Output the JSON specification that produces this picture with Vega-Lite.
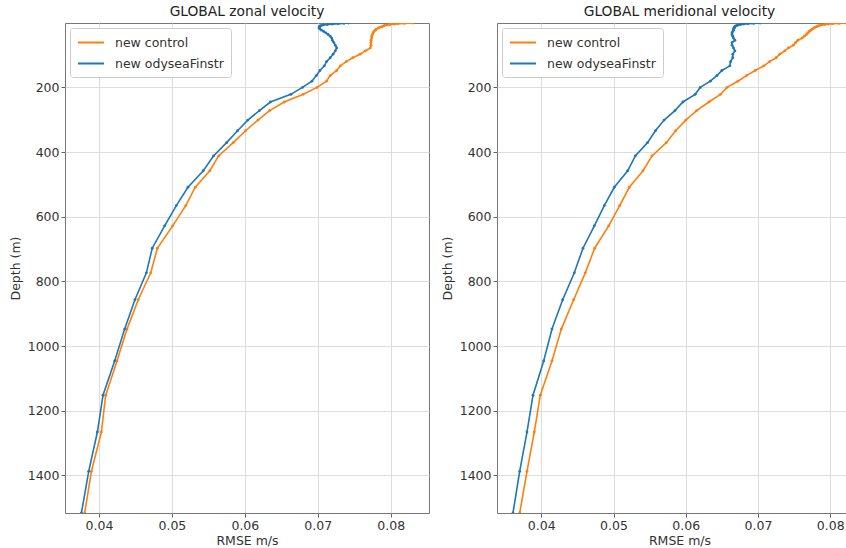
{
"$schema": "https://vega.github.io/schema/vega-lite/v6.json",
"padding": {"left": 8, "top": 4, "right": 0, "bottom": 0},
"datasets": {
"zonal": [
{"series":"new control","depth":0.5058,"rmse":0.0830},
{"series":"new control","depth":1.5559,"rmse":0.0819},
{"series":"new control","depth":2.6677,"rmse":0.0810},
{"series":"new control","depth":3.8563,"rmse":0.0805},
{"series":"new control","depth":5.1404,"rmse":0.0799},
{"series":"new control","depth":6.543,"rmse":0.0795},
{"series":"new control","depth":8.0925,"rmse":0.0792},
{"series":"new control","depth":9.8228,"rmse":0.0790},
{"series":"new control","depth":11.7737,"rmse":0.0788},
{"series":"new control","depth":13.9911,"rmse":0.0785},
{"series":"new control","depth":16.5253,"rmse":0.0783},
{"series":"new control","depth":19.4298,"rmse":0.0780},
{"series":"new control","depth":22.7576,"rmse":0.0779},
{"series":"new control","depth":26.5583,"rmse":0.0777},
{"series":"new control","depth":30.8746,"rmse":0.0776},
{"series":"new control","depth":35.7402,"rmse":0.0775},
{"series":"new control","depth":41.18,"rmse":0.0774},
{"series":"new control","depth":47.2119,"rmse":0.0774},
{"series":"new control","depth":53.8506,"rmse":0.0773},
{"series":"new control","depth":61.1128,"rmse":0.0773},
{"series":"new control","depth":69.0217,"rmse":0.0773},
{"series":"new control","depth":77.6112,"rmse":0.0772},
{"series":"new control","depth":86.9294,"rmse":0.0765},
{"series":"new control","depth":97.0413,"rmse":0.0758},
{"series":"new control","depth":108.0303,"rmse":0.0748},
{"series":"new control","depth":120.0,"rmse":0.0739},
{"series":"new control","depth":133.0758,"rmse":0.0731},
{"series":"new control","depth":147.4062,"rmse":0.0726},
{"series":"new control","depth":163.1645,"rmse":0.0717},
{"series":"new control","depth":180.5499,"rmse":0.0712},
{"series":"new control","depth":199.79,"rmse":0.0699},
{"series":"new control","depth":221.1412,"rmse":0.0680},
{"series":"new control","depth":244.8906,"rmse":0.0654},
{"series":"new control","depth":271.3564,"rmse":0.0634},
{"series":"new control","depth":300.8875,"rmse":0.0618},
{"series":"new control","depth":333.8628,"rmse":0.0601},
{"series":"new control","depth":370.6885,"rmse":0.0584},
{"series":"new control","depth":411.7939,"rmse":0.0564},
{"series":"new control","depth":457.6256,"rmse":0.0552},
{"series":"new control","depth":508.6399,"rmse":0.0532},
{"series":"new control","depth":565.2922,"rmse":0.0519},
{"series":"new control","depth":628.026,"rmse":0.0501},
{"series":"new control","depth":697.2587,"rmse":0.0480},
{"series":"new control","depth":773.3683,"rmse":0.0471},
{"series":"new control","depth":856.6792,"rmse":0.04538},
{"series":"new control","depth":947.4479,"rmse":0.04384},
{"series":"new control","depth":1045.854,"rmse":0.04247},
{"series":"new control","depth":1151.991,"rmse":0.04092},
{"series":"new control","depth":1265.861,"rmse":0.04033},
{"series":"new control","depth":1387.377,"rmse":0.03896},
{"series":"new control","depth":1516.364,"rmse":0.03804},
{"series":"new odyseaFinstr","depth":0.5058,"rmse":0.0742},
{"series":"new odyseaFinstr","depth":1.5559,"rmse":0.0736},
{"series":"new odyseaFinstr","depth":2.6677,"rmse":0.0728},
{"series":"new odyseaFinstr","depth":3.8563,"rmse":0.0720},
{"series":"new odyseaFinstr","depth":5.1404,"rmse":0.0713},
{"series":"new odyseaFinstr","depth":6.543,"rmse":0.0708},
{"series":"new odyseaFinstr","depth":8.0925,"rmse":0.0705},
{"series":"new odyseaFinstr","depth":9.8228,"rmse":0.0703},
{"series":"new odyseaFinstr","depth":11.7737,"rmse":0.0702},
{"series":"new odyseaFinstr","depth":13.9911,"rmse":0.0702},
{"series":"new odyseaFinstr","depth":16.5253,"rmse":0.0702},
{"series":"new odyseaFinstr","depth":19.4298,"rmse":0.0703},
{"series":"new odyseaFinstr","depth":22.7576,"rmse":0.0705},
{"series":"new odyseaFinstr","depth":26.5583,"rmse":0.0708},
{"series":"new odyseaFinstr","depth":30.8746,"rmse":0.0711},
{"series":"new odyseaFinstr","depth":35.7402,"rmse":0.0714},
{"series":"new odyseaFinstr","depth":41.18,"rmse":0.0717},
{"series":"new odyseaFinstr","depth":47.2119,"rmse":0.0719},
{"series":"new odyseaFinstr","depth":53.8506,"rmse":0.0720},
{"series":"new odyseaFinstr","depth":61.1128,"rmse":0.0722},
{"series":"new odyseaFinstr","depth":69.0217,"rmse":0.0724},
{"series":"new odyseaFinstr","depth":77.6112,"rmse":0.0726},
{"series":"new odyseaFinstr","depth":86.9294,"rmse":0.0724},
{"series":"new odyseaFinstr","depth":97.0413,"rmse":0.0721},
{"series":"new odyseaFinstr","depth":108.0303,"rmse":0.0717},
{"series":"new odyseaFinstr","depth":120.0,"rmse":0.0712},
{"series":"new odyseaFinstr","depth":133.0758,"rmse":0.0709},
{"series":"new odyseaFinstr","depth":147.4062,"rmse":0.0703},
{"series":"new odyseaFinstr","depth":163.1645,"rmse":0.0698},
{"series":"new odyseaFinstr","depth":180.5499,"rmse":0.0692},
{"series":"new odyseaFinstr","depth":199.79,"rmse":0.0679},
{"series":"new odyseaFinstr","depth":221.1412,"rmse":0.0663},
{"series":"new odyseaFinstr","depth":244.8906,"rmse":0.0635},
{"series":"new odyseaFinstr","depth":271.3564,"rmse":0.0620},
{"series":"new odyseaFinstr","depth":300.8875,"rmse":0.0604},
{"series":"new odyseaFinstr","depth":333.8628,"rmse":0.0590},
{"series":"new odyseaFinstr","depth":370.6885,"rmse":0.0575},
{"series":"new odyseaFinstr","depth":411.7939,"rmse":0.0557},
{"series":"new odyseaFinstr","depth":457.6256,"rmse":0.0543},
{"series":"new odyseaFinstr","depth":508.6399,"rmse":0.0522},
{"series":"new odyseaFinstr","depth":565.2922,"rmse":0.0506},
{"series":"new odyseaFinstr","depth":628.026,"rmse":0.0490},
{"series":"new odyseaFinstr","depth":697.2587,"rmse":0.0473},
{"series":"new odyseaFinstr","depth":773.3683,"rmse":0.0465},
{"series":"new odyseaFinstr","depth":856.6792,"rmse":0.04493},
{"series":"new odyseaFinstr","depth":947.4479,"rmse":0.04352},
{"series":"new odyseaFinstr","depth":1045.854,"rmse":0.04215},
{"series":"new odyseaFinstr","depth":1151.991,"rmse":0.04055},
{"series":"new odyseaFinstr","depth":1265.861,"rmse":0.03978},
{"series":"new odyseaFinstr","depth":1387.377,"rmse":0.03859},
{"series":"new odyseaFinstr","depth":1516.364,"rmse":0.03759}
],
"meridional": [
{"series":"new control","depth":0.5058,"rmse":0.0822},
{"series":"new control","depth":1.5559,"rmse":0.0812},
{"series":"new control","depth":2.6677,"rmse":0.0803},
{"series":"new control","depth":3.8563,"rmse":0.0797},
{"series":"new control","depth":5.1404,"rmse":0.0792},
{"series":"new control","depth":6.543,"rmse":0.0788},
{"series":"new control","depth":8.0925,"rmse":0.0785},
{"series":"new control","depth":9.8228,"rmse":0.0783},
{"series":"new control","depth":11.7737,"rmse":0.0781},
{"series":"new control","depth":13.9911,"rmse":0.0779},
{"series":"new control","depth":16.5253,"rmse":0.0777},
{"series":"new control","depth":19.4298,"rmse":0.0775},
{"series":"new control","depth":22.7576,"rmse":0.0773},
{"series":"new control","depth":26.5583,"rmse":0.0771},
{"series":"new control","depth":30.8746,"rmse":0.0769},
{"series":"new control","depth":35.7402,"rmse":0.0767},
{"series":"new control","depth":41.18,"rmse":0.0764},
{"series":"new control","depth":47.2119,"rmse":0.0761},
{"series":"new control","depth":53.8506,"rmse":0.0755},
{"series":"new control","depth":61.1128,"rmse":0.0752},
{"series":"new control","depth":69.0217,"rmse":0.0749},
{"series":"new control","depth":77.6112,"rmse":0.0742},
{"series":"new control","depth":86.9294,"rmse":0.0737},
{"series":"new control","depth":97.0413,"rmse":0.0730},
{"series":"new control","depth":108.0303,"rmse":0.0725},
{"series":"new control","depth":120.0,"rmse":0.0716},
{"series":"new control","depth":133.0758,"rmse":0.0708},
{"series":"new control","depth":147.4062,"rmse":0.0696},
{"series":"new control","depth":163.1645,"rmse":0.0684},
{"series":"new control","depth":180.5499,"rmse":0.0672},
{"series":"new control","depth":199.79,"rmse":0.0657},
{"series":"new control","depth":221.1412,"rmse":0.0648},
{"series":"new control","depth":244.8906,"rmse":0.0632},
{"series":"new control","depth":271.3564,"rmse":0.0615},
{"series":"new control","depth":300.8875,"rmse":0.0600},
{"series":"new control","depth":333.8628,"rmse":0.0586},
{"series":"new control","depth":370.6885,"rmse":0.0573},
{"series":"new control","depth":411.7939,"rmse":0.05532},
{"series":"new control","depth":457.6256,"rmse":0.05408},
{"series":"new control","depth":508.6399,"rmse":0.05218},
{"series":"new control","depth":565.2922,"rmse":0.05085},
{"series":"new control","depth":628.026,"rmse":0.04933},
{"series":"new control","depth":697.2587,"rmse":0.04739},
{"series":"new control","depth":773.3683,"rmse":0.04609},
{"series":"new control","depth":856.6792,"rmse":0.04448},
{"series":"new control","depth":947.4479,"rmse":0.04277},
{"series":"new control","depth":1045.854,"rmse":0.04148},
{"series":"new control","depth":1151.991,"rmse":0.03986},
{"series":"new control","depth":1265.861,"rmse":0.03903},
{"series":"new control","depth":1387.377,"rmse":0.03802},
{"series":"new control","depth":1516.364,"rmse":0.03701},
{"series":"new odyseaFinstr","depth":0.5058,"rmse":0.0703},
{"series":"new odyseaFinstr","depth":1.5559,"rmse":0.0694},
{"series":"new odyseaFinstr","depth":2.6677,"rmse":0.0686},
{"series":"new odyseaFinstr","depth":3.8563,"rmse":0.0680},
{"series":"new odyseaFinstr","depth":5.1404,"rmse":0.0676},
{"series":"new odyseaFinstr","depth":6.543,"rmse":0.0673},
{"series":"new odyseaFinstr","depth":8.0925,"rmse":0.0671},
{"series":"new odyseaFinstr","depth":9.8228,"rmse":0.0669},
{"series":"new odyseaFinstr","depth":11.7737,"rmse":0.0668},
{"series":"new odyseaFinstr","depth":13.9911,"rmse":0.0667},
{"series":"new odyseaFinstr","depth":16.5253,"rmse":0.0667},
{"series":"new odyseaFinstr","depth":19.4298,"rmse":0.0666},
{"series":"new odyseaFinstr","depth":22.7576,"rmse":0.0666},
{"series":"new odyseaFinstr","depth":26.5583,"rmse":0.0665},
{"series":"new odyseaFinstr","depth":30.8746,"rmse":0.0664},
{"series":"new odyseaFinstr","depth":35.7402,"rmse":0.0664},
{"series":"new odyseaFinstr","depth":41.18,"rmse":0.0665},
{"series":"new odyseaFinstr","depth":47.2119,"rmse":0.0666},
{"series":"new odyseaFinstr","depth":53.8506,"rmse":0.0668},
{"series":"new odyseaFinstr","depth":61.1128,"rmse":0.0664},
{"series":"new odyseaFinstr","depth":69.0217,"rmse":0.0664},
{"series":"new odyseaFinstr","depth":77.6112,"rmse":0.0666},
{"series":"new odyseaFinstr","depth":86.9294,"rmse":0.0668},
{"series":"new odyseaFinstr","depth":97.0413,"rmse":0.0665},
{"series":"new odyseaFinstr","depth":108.0303,"rmse":0.0665},
{"series":"new odyseaFinstr","depth":120.0,"rmse":0.0662},
{"series":"new odyseaFinstr","depth":133.0758,"rmse":0.0661},
{"series":"new odyseaFinstr","depth":147.4062,"rmse":0.0650},
{"series":"new odyseaFinstr","depth":163.1645,"rmse":0.0643},
{"series":"new odyseaFinstr","depth":180.5499,"rmse":0.0634},
{"series":"new odyseaFinstr","depth":199.79,"rmse":0.0620},
{"series":"new odyseaFinstr","depth":221.1412,"rmse":0.0613},
{"series":"new odyseaFinstr","depth":244.8906,"rmse":0.0596},
{"series":"new odyseaFinstr","depth":271.3564,"rmse":0.0585},
{"series":"new odyseaFinstr","depth":300.8875,"rmse":0.0570},
{"series":"new odyseaFinstr","depth":333.8628,"rmse":0.0558},
{"series":"new odyseaFinstr","depth":370.6885,"rmse":0.0547},
{"series":"new odyseaFinstr","depth":411.7939,"rmse":0.05301},
{"series":"new odyseaFinstr","depth":457.6256,"rmse":0.05196},
{"series":"new odyseaFinstr","depth":508.6399,"rmse":0.05010},
{"series":"new odyseaFinstr","depth":565.2922,"rmse":0.04872},
{"series":"new odyseaFinstr","depth":628.026,"rmse":0.04734},
{"series":"new odyseaFinstr","depth":697.2587,"rmse":0.04577},
{"series":"new odyseaFinstr","depth":773.3683,"rmse":0.04457},
{"series":"new odyseaFinstr","depth":856.6792,"rmse":0.04296},
{"series":"new odyseaFinstr","depth":947.4479,"rmse":0.04148},
{"series":"new odyseaFinstr","depth":1045.854,"rmse":0.04033},
{"series":"new odyseaFinstr","depth":1151.991,"rmse":0.03885},
{"series":"new odyseaFinstr","depth":1265.861,"rmse":0.03802},
{"series":"new odyseaFinstr","depth":1387.377,"rmse":0.03701},
{"series":"new odyseaFinstr","depth":1516.364,"rmse":0.03608}
]
},
"config": {
  "font": "DejaVu Sans",
  "view": {"stroke": "#777777", "strokeWidth": 1},
  "axis": {"labelFont": "DejaVu Sans", "labelFontSize": 12.5, "labelColor": "#333333", "titleFont": "DejaVu Sans", "titleFontSize": 12.5, "titleFontWeight": "normal", "titleColor": "#333333", "gridColor": "#dddddd", "gridWidth": 1, "tickColor": "#666666", "tickSize": 4, "domain": false, "labelPadding": 2},
  "title": {"font": "DejaVu Sans", "fontSize": 13.8, "fontWeight": "normal", "color": "#222222", "offset": 4},
  "legend": {"labelFont": "DejaVu Sans", "labelFontSize": 12.5, "labelColor": "#333333", "symbolType": "M-1,0H3", "symbolStrokeWidth": 2, "symbolSize": 169, "labelOffset": 23, "rowPadding": 7, "padding": 7, "fillColor": "white", "strokeColor": "#cccccc", "cornerRadius": 3, "offset": 5},
  "concat": {"spacing": 10}
},
"resolve": {"legend": {"color": "independent"}},
"hconcat": [
{
  "width": 364, "height": 490,
  "title": "GLOBAL zonal velocity",
  "data": {"name": "zonal"},
  "mark": {"type": "line", "strokeWidth": 1.6, "clip": true, "point": {"filled": true, "size": 8}},
  "encoding": {
    "x": {"field": "rmse", "type": "quantitative", "scale": {"domain": [0.03534, 0.08525], "nice": false, "zero": false}, "axis": {"values": [0.04, 0.05, 0.06, 0.07, 0.08], "format": ".2f", "title": "RMSE m/s", "titlePadding": 3}},
    "y": {"field": "depth", "type": "quantitative", "scale": {"domain": [0.5058, 1516.364], "reverse": true, "nice": false, "zero": false}, "axis": {"values": [200, 400, 600, 800, 1000, 1200, 1400], "format": "d", "title": "Depth (m)", "titlePadding": 5}},
    "color": {"field": "series", "type": "nominal", "scale": {"domain": ["new control", "new odyseaFinstr"], "range": ["#ff7f0e", "#1f77b4"]}, "legend": {"title": null, "orient": "top-left"}},
    "order": {"field": "depth", "type": "quantitative"}
  }
},
{
  "width": 365, "height": 490,
  "title": "GLOBAL meridional velocity",
  "data": {"name": "meridional"},
  "mark": {"type": "line", "strokeWidth": 1.6, "clip": true, "point": {"filled": true, "size": 8}},
  "encoding": {
    "x": {"field": "rmse", "type": "quantitative", "scale": {"domain": [0.03387, 0.08439], "nice": false, "zero": false}, "axis": {"values": [0.04, 0.05, 0.06, 0.07, 0.08], "format": ".2f", "title": "RMSE m/s", "titlePadding": 3}},
    "y": {"field": "depth", "type": "quantitative", "scale": {"domain": [0.5058, 1516.364], "reverse": true, "nice": false, "zero": false}, "axis": {"values": [200, 400, 600, 800, 1000, 1200, 1400], "format": "d", "title": "Depth (m)", "titlePadding": 5}},
    "color": {"field": "series", "type": "nominal", "scale": {"domain": ["new control", "new odyseaFinstr"], "range": ["#ff7f0e", "#1f77b4"]}, "legend": {"title": null, "orient": "top-left"}},
    "order": {"field": "depth", "type": "quantitative"}
  }
}
]
}
